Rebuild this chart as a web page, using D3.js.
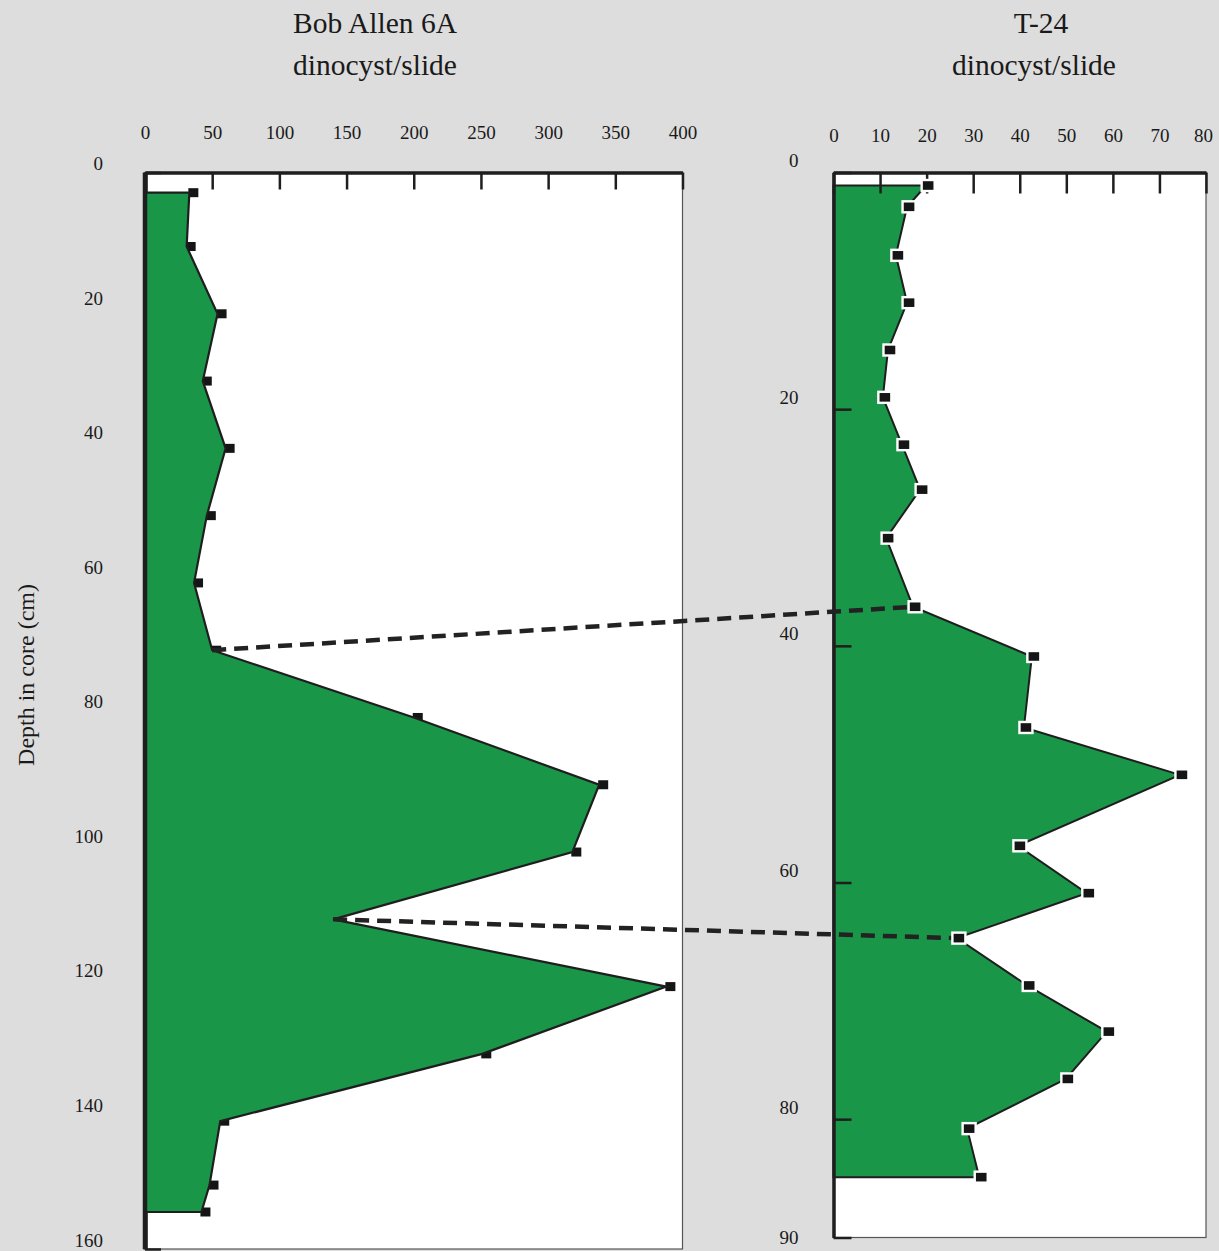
<!DOCTYPE html>
<html>
<head>
<meta charset="utf-8">
<script src="https://cdn.jsdelivr.net/npm/d3@7"></script>
<style>
  html, body { margin: 0; padding: 0; background: #dddddd; }
  svg { display: block; }
  text { font-family: "Liberation Serif", "Times New Roman", serif; fill: #1a1a1a; }
</style>
</head>
<body>
<svg id="chart" width="1219" height="1251"></svg>
<script>
// ---- Data ----
const leftDepth = [3, 11, 21, 31, 41, 51, 61, 71, 81, 91, 101, 111, 121, 131, 141, 150.5, 154.5];
const leftCount = [33, 31, 54, 43, 60, 46, 36.5, 50, 200, 338, 318, 140, 388, 251, 56, 48, 42];
const rightDepth = [1.1, 2.9, 7, 11, 15, 19, 23, 26.8, 30.9, 36.7, 40.9, 46.9, 50.9, 56.9, 60.9, 64.7, 68.7, 72.6, 76.6, 80.8, 84.9];
const rightCount = [19.9, 15.8, 13.4, 15.8, 11.7, 10.6, 14.7, 18.6, 11.3, 17.1, 42.6, 40.9, 74.4, 39.6, 54.4, 26.5, 41.6, 58.7, 49.9, 28.7, 31.3];
const leftXTicks = [0, 50, 100, 150, 200, 250, 300, 350, 400];
const leftYTicks = [0, 20, 40, 60, 80, 100, 120, 140, 160];
const rightXTicks = [0, 10, 20, 30, 40, 50, 60, 70, 80];
const rightYTicks = [0, 20, 40, 60, 80, 90];
// correlation links between the two cores
const linkLeftDepth = [71, 111];
const linkLeftCount = [50, 140];
const linkRightDepth = [36.7, 64.7];
const linkRightCount = [17.1, 26.5];
const titles = ["Bob Allen 6A", "T-24"];
const subtitle = "dinocyst/slide";
const yTitle = "Depth in core (cm)";

// ---- Layout ----
const GREEN = "#1a9649";
const INK = "#1e1e1e";
const svg = d3.select("#chart");

const xL = d3.scaleLinear().domain([0, 400]).range([145, 682.5]);
const yL = d3.scaleLinear().domain([0, 160]).range([172.5, 1249]);
const xR = d3.scaleLinear().domain([0, 80]).range([833.5, 1206]);
const yR = d3.scaleLinear().domain([0, 90]).range([172.5, 1237.5]);

function panelBg(x, y) {
  const [x0, x1] = x.range(), [y0, y1] = y.range();
  svg.append("rect").attr("x", x0).attr("y", y0).attr("width", x1 - x0).attr("height", y1 - y0)
    .attr("fill", "#ffffff").attr("stroke", "#555").attr("stroke-width", 1.2);
}
panelBg(xL, yL);
panelBg(xR, yR);

function styleAxis(g, w) {
  g.select(".domain").attr("stroke", INK).attr("stroke-width", w);
  g.selectAll(".tick line").attr("stroke", INK).attr("stroke-width", 2.5);
  g.selectAll(".tick text").attr("font-size", 19).attr("fill", "#1a1a1a")
    .attr("font-family", '"Liberation Serif", "Times New Roman", serif');
}

// ---- Left panel ----
const gLy = svg.append("g").attr("transform", `translate(${xL(0)},0)`)
  .call(d3.axisLeft(yL).tickValues(leftYTicks).tickSize(-16).tickSizeOuter(0).tickPadding(42));
gLy.selectAll(".tick text").attr("dy", -3);
styleAxis(gLy, 4.5);

const leftPts = leftDepth.map((d, i) => [leftCount[i], d]);
svg.append("g").selectAll("rect").data(leftPts).join("rect")
  .attr("x", d => xL(d[0]) + 4 - 5).attr("y", d => yL(d[1]) - 4.5)
  .attr("width", 10).attr("height", 9).attr("fill", "#151515");

const leftPoly = [[0, leftDepth[0]], ...leftPts, [0, leftDepth[leftDepth.length - 1]]];
svg.append("path")
  .attr("d", d3.line().x(d => xL(d[0])).y(d => yL(d[1]))(leftPoly) + "Z")
  .attr("fill", GREEN).attr("stroke", INK).attr("stroke-width", 2.2).attr("stroke-linejoin", "miter");

svg.append("line").attr("x1", xL(0)).attr("x2", xL(0)).attr("y1", yL(0)).attr("y2", yL(160))
  .attr("stroke", INK).attr("stroke-width", 4.5);

const gLx = svg.append("g").attr("transform", `translate(0,${yL(0)})`)
  .call(d3.axisTop(xL).tickValues(leftXTicks).tickSize(-17).tickSizeOuter(0).tickPadding(34));
styleAxis(gLx, 3.5);

// ---- Right panel ----
const rightPts = rightDepth.map((d, i) => [rightCount[i], d]);
const rightPoly = [[0, rightDepth[0]], ...rightPts, [0, rightDepth[rightDepth.length - 1]]];
svg.append("path")
  .attr("d", d3.line().x(d => xR(d[0])).y(d => yR(d[1]))(rightPoly) + "Z")
  .attr("fill", GREEN).attr("stroke", INK).attr("stroke-width", 2).attr("stroke-linejoin", "miter");

const gRy = svg.append("g").attr("transform", `translate(${xR(0)},0)`)
  .call(d3.axisLeft(yR).tickValues(rightYTicks).tickSize(-18).tickSizeOuter(0).tickPadding(35));
gRy.selectAll(".tick text").attr("dy", d => d === 90 ? 6 : -6);
styleAxis(gRy, 3.5);

const gRx = svg.append("g").attr("transform", `translate(0,${yR(0)})`)
  .call(d3.axisTop(xR).tickValues(rightXTicks).tickSize(-21).tickSizeOuter(0).tickPadding(31));
gRx.selectAll(".tick text").attr("dx", d => d === 80 ? -3 : 0);
styleAxis(gRx, 3.5);

// ---- Correlation dashed lines ----
svg.append("g").selectAll("line").data(linkLeftDepth).join("line")
  .attr("x1", (d, i) => xL(linkLeftCount[i])).attr("y1", d => yL(d))
  .attr("x2", (d, i) => xR(linkRightCount[i])).attr("y2", (d, i) => yR(linkRightDepth[i]))
  .attr("stroke", "#222").attr("stroke-width", 4.5).attr("stroke-dasharray", "14 8");

// right markers on top, white border
svg.append("g").selectAll("rect").data(rightPts).join("rect")
  .attr("x", d => xR(d[0]) + 2 - 6.5).attr("y", d => yR(d[1]) - 5.5)
  .attr("width", 13).attr("height", 11).attr("fill", "#151515")
  .attr("stroke", "#ffffff").attr("stroke-width", 2.4);

// ---- Titles ----
const titleX = [375, 1041];
const subX = [375, 1034];
titles.forEach((t, i) => {
  svg.append("text").attr("x", titleX[i]).attr("y", 33).attr("text-anchor", "middle")
    .attr("font-size", 29.5).text(t);
  svg.append("text").attr("x", subX[i]).attr("y", 75).attr("text-anchor", "middle")
    .attr("font-size", 29.5).text(subtitle);
});

svg.append("text")
  .attr("transform", `translate(34,675) rotate(-90)`)
  .attr("text-anchor", "middle").attr("font-size", 24).text(yTitle);
</script>
</body>
</html>
